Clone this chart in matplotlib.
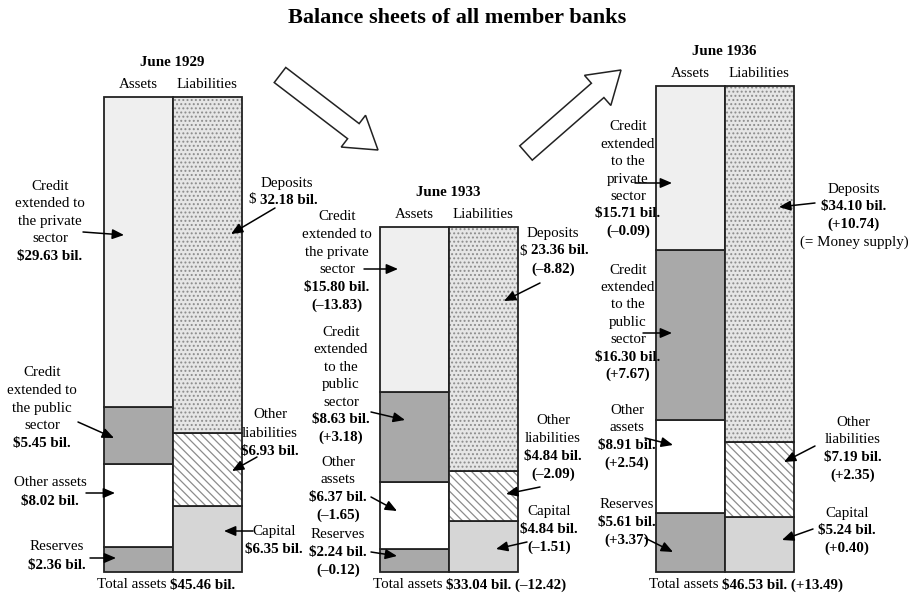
import matplotlib
matplotlib.use("Agg")
import matplotlib.pyplot as plt
import matplotlib.patches as mpatches

plt.rcParams['font.family'] = ['Liberation Serif', 'DejaVu Serif']
plt.rcParams['hatch.linewidth'] = 0.9

# balance sheet data, billions of dollars
years = ["June 1929", "June 1933", "June 1936"]
reserves = [2.36, 2.24, 5.61]
other_assets = [8.02, 6.37, 8.91]
public_credit = [5.45, 8.63, 16.30]
private_credit = [29.63, 15.80, 15.71]
capital = [6.35, 4.84, 5.24]
other_liab = [6.93, 4.84, 7.19]
deposits = [32.18, 23.36, 34.10]
totals = ["$45.46 bil.", "$33.04 bil. (\u201312.42)", "$46.53 bil. (+13.49)"]

# layout (pixels)
W, H = 914, 597
base_px = 572
px_per_bil = 10.45
asset_x = [138, 414, 690]
bar_w = 69

fig = plt.figure(figsize=(W / 100, H / 100), dpi=100)
ax = fig.add_axes([0, 0, 1, 1])
ax.set_xlim(0, W)
ax.set_ylim(-(H - base_px) / px_per_bil, base_px / px_per_bil)
ax.axis('off')

ov = fig.add_axes([0, 0, 1, 1], zorder=3)
ov.set_xlim(0, W)
ov.set_ylim(H, 0)
ov.axis('off')
ov.patch.set_alpha(0)

ec = '#222222'
kw = dict(width=bar_w, edgecolor=ec, linewidth=1.3)
liab_x = [x + bar_w for x in asset_x]

b = [0, 0, 0]
for vals, fc in [(reserves, '#a9a9a9'), (other_assets, 'white'),
                 (public_credit, '#a9a9a9'), (private_credit, '#efefef')]:
    ax.bar(asset_x, vals, bottom=b, color=fc, **kw)
    b = [b[i] + vals[i] for i in range(3)]

b = [0, 0, 0]
ax.bar(liab_x, capital, bottom=b, color='#d6d6d6', **kw)
b = [b[i] + capital[i] for i in range(3)]
# hatch drawn in grey, outline drawn on top
ax.bar(liab_x, other_liab, bottom=b, width=bar_w, facecolor='white',
       edgecolor='#8c8c8c', linewidth=0, hatch='\\\\\\\\')
ax.bar(liab_x, other_liab, bottom=b, color='none', **kw)
b = [b[i] + other_liab[i] for i in range(3)]
ax.bar(liab_x, deposits, bottom=b, width=bar_w, facecolor='#e6e6e6',
       edgecolor='#8c8c8c', linewidth=0, hatch='....')
ax.bar(liab_x, deposits, bottom=b, color='none', **kw)

fs = 10.8

# headers
for i, yr in enumerate(years):
    top = base_px - (reserves[i] + other_assets[i] + public_credit[i] + private_credit[i]) * px_per_bil
    ov.text(asset_x[i] + bar_w / 2, top - 34, yr, ha='center', va='center',
            fontsize=fs, fontweight='bold')
    ov.text(asset_x[i], top - 12, "Assets", ha='center', va='center', fontsize=fs)
    ov.text(liab_x[i], top - 12, "Liabilities", ha='center', va='center', fontsize=fs)
    ov.text(asset_x[i] + bar_w / 2 - 2, 585, "Total assets ", ha='right', va='center', fontsize=fs)
    ov.text(asset_x[i] + bar_w / 2 - 2, 585, totals[i], ha='left', va='center',
            fontsize=fs, fontweight='bold')

ov.text(457, 18, "Balance sheets of all member banks", ha='center', va='center',
        fontsize=16, fontweight='bold')

def label(x, y, plain, bold, step=17.6):
    lines = plain + bold
    for k, s in enumerate(lines):
        ov.text(x, y + k * step, s, ha='center', va='center', fontsize=fs,
                fontweight='bold' if k >= len(plain) else 'normal')

def arrow(x0, y0, x1, y1):
    ov.annotate('', xy=(x1, y1), xytext=(x0, y0),
                arrowprops=dict(arrowstyle='-|>,head_length=0.7,head_width=0.3',
                                color='black', lw=1.1, shrinkA=0, shrinkB=0))

# 1929
label(50, 186, ["Credit", "extended to", "the private", "sector"], ["$29.63 bil."])
arrow(83, 232, 124, 235)
label(42, 373, ["Credit", "extended to", "the public", "sector"], ["$5.45 bil."])
arrow(78, 422, 114, 438)
label(50, 482, ["Other assets"], ["$8.02 bil."], step=19)
arrow(86, 493, 115, 493)
label(57, 546, ["Reserves"], ["$2.36 bil."], step=19)
arrow(90, 558, 116, 558)
ov.text(287, 183, "Deposits", ha='center', va='center', fontsize=fs)
ov.text(249, 200, "$ ", ha='left', va='center', fontsize=fs)
ov.text(260, 200, "32.18 bil.", ha='left', va='center', fontsize=fs, fontweight='bold')
arrow(275, 208, 231, 234)
label(270, 415, ["Other", "liabilities"], ["$6.93 bil."], step=18.5)
arrow(257, 457, 232, 471)
label(274, 531, ["Capital"], ["$6.35 bil."], step=18.5)
arrow(253, 531, 224, 531)

# 1933
label(337, 217, ["Credit", "extended to", "the private", "sector"], ["$15.80 bil.", "(\u201313.83)"])
arrow(364, 269, 398, 269)
label(341, 332, ["Credit", "extended", "to the", "public", "sector"], ["$8.63 bil.", "(+3.18)"])
arrow(371, 412, 405, 420)
label(338, 462, ["Other", "assets"], ["$6.37 bil.", "(\u20131.65)"])
arrow(371, 497, 397, 511)
label(338, 535, ["Reserves"], ["$2.24 bil.", "(\u20130.12)"])
arrow(371, 552, 397, 556)
ov.text(553, 233, "Deposits", ha='center', va='center', fontsize=fs)
ov.text(520, 251, "$ ", ha='left', va='center', fontsize=fs)
ov.text(531, 251, "23.36 bil.", ha='left', va='center', fontsize=fs, fontweight='bold')
ov.text(553, 269, "(\u20138.82)", ha='center', va='center', fontsize=fs, fontweight='bold')
arrow(540, 283, 504, 301)
label(553, 421, ["Other", "liabilities"], ["$4.84 bil.", "(\u20132.09)"])
arrow(540, 487, 506, 494)
label(549, 512, ["Capital"], ["$4.84 bil.", "(\u20131.51)"])
arrow(527, 542, 496, 549)

# 1936
label(628, 127, ["Credit", "extended", "to the", "private", "sector"], ["$15.71 bil.", "(\u20130.09)"], step=17.4)
arrow(635, 183, 672, 183)
label(628, 270, ["Credit", "extended", "to the", "public", "sector"], ["$16.30 bil.", "(+7.67)"], step=17.4)
arrow(643, 333, 672, 333)
label(627, 410, ["Other", "assets"], ["$8.91 bil.", "(+2.54)"])
arrow(645, 438, 673, 445)
label(627, 505, ["Reserves"], ["$5.61 bil.", "(+3.37)"])
arrow(645, 538, 673, 552)
label(854, 189, ["Deposits"], ["$34.10 bil.", "(+10.74)"])
ov.text(854, 242, "(= Money supply)", ha='center', va='center', fontsize=fs)
arrow(815, 203, 779, 207)
label(853, 422, ["Other", "liabilities"], ["$7.19 bil.", "(+2.35)"])
arrow(815, 446, 784, 462)
label(847, 513, ["Capital"], ["$5.24 bil.", "(+0.40)"])
arrow(813, 529, 782, 540)

# big hollow arrows between the years
for (x0, y0, x1, y1) in [(280, 75, 378, 150), (526, 153, 621, 70)]:
    ov.add_patch(mpatches.FancyArrow(x0, y0, x1 - x0, y1 - y0, width=19,
                                     head_width=40, head_length=31,
                                     length_includes_head=True,
                                     facecolor='white', edgecolor='#222222', lw=1.1))

fig.savefig("out.png", dpi=100)
